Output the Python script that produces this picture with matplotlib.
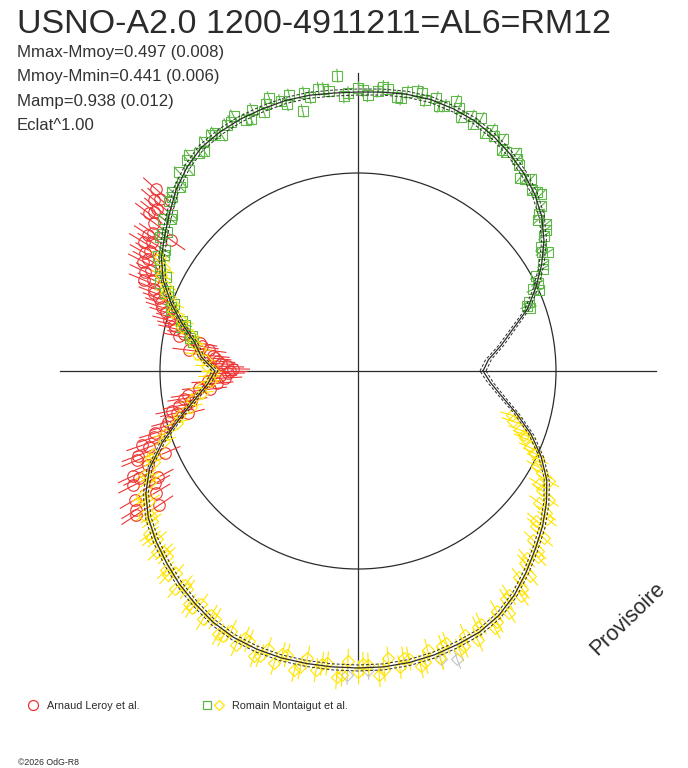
import numpy as np
import matplotlib
matplotlib.use("Agg")
import matplotlib.pyplot as plt
from matplotlib.collections import LineCollection
from matplotlib.patches import Circle

plt.rcParams['font.family'] = ['Liberation Sans', 'DejaVu Sans']

TITLE = "USNO-A2.0 1200-4911211=AL6=RM12"
STATS = ["Mmax-Mmoy=0.497 (0.008)", "Mmoy-Mmin=0.441 (0.006)",
         "Mamp=0.938 (0.012)", "Eclat^1.00"]
SERIES_NAMES = ["Arnaud Leroy et al.", "Romain Montaigut et al."]
WATERMARK = "Provisoire"
COPYRIGHT = "\u00a92026 OdG-R8"

# radial unit: mean-level circle has radius 198
R_MEAN = 198
AXIS_HALF = 298

# fitted light curve, angle in degrees
fit_angle = [0, 5, 10, 15, 20, 25, 30, 35, 40, 45,
             50, 55, 60, 65, 70, 75, 80, 85, 90, 95,
             100, 105, 110, 115, 120, 125, 130, 135, 140, 145,
             150, 155, 160, 165, 170, 175, 180, 185, 190, 195,
             200, 205, 210, 215, 220, 225, 230, 235, 240, 245,
             250, 255, 260, 265, 270, 275, 280, 285, 290, 295,
             300, 305, 310, 315, 320, 325, 330, 335, 340, 345,
             350, 355]
fit_r = [125, 131, 145, 160, 180, 196, 212, 227, 240, 250,
         258, 265, 271, 276, 279, 281, 281, 280, 279, 279,
         280, 280, 279, 278, 276, 273, 266, 257, 246, 236,
         227, 215, 199, 182, 166, 157, 143, 151, 166, 185,
         208, 230, 245, 256, 264, 271, 278, 284, 290, 294,
         296, 297, 297, 297, 297, 297, 296, 294, 291, 288,
         282, 273, 262, 251, 241, 230, 218, 202, 184, 164,
         146, 133]

# Romain Montaigut et al. (squares)
green_angle = [20, 21, 22, 24, 25, 26, 28, 29, 30, 32,
               33, 34, 36, 37, 38, 40, 41, 42, 44, 45,
               46, 48, 49, 50, 52, 53, 54, 56, 57, 58,
               60, 61, 62, 64, 65, 66, 68, 69, 70, 72,
               73, 74, 76, 77, 78, 80, 81, 82, 84, 85,
               86, 88, 89, 90, 92, 93, 94, 96, 97, 98,
               100, 101, 102, 104, 105, 106, 108, 109, 110, 112,
               113, 114, 116, 117, 118, 120, 121, 122, 124, 125,
               126, 128, 129, 130, 132, 133, 134, 136, 137, 138,
               140, 141, 142, 144, 145, 146, 148, 149, 150, 152,
               153, 154, 156, 157, 158, 160, 161, 162, 164, 165,
               166, 168, 169, 170]
green_r = [183, 181, 184, 198, 193, 200, 202, 211, 214, 224,
           219, 221, 230, 235, 239, 235, 240, 246, 255, 253,
           251, 258, 254, 252, 262, 265, 269, 264, 264, 273,
           271, 276, 270, 281, 273, 279, 274, 282, 287, 279,
           277, 284, 279, 285, 286, 283, 276, 277, 284, 285,
           281, 276, 281, 283, 278, 275, 296, 282, 284, 285,
           278, 283, 266, 284, 276, 281, 287, 282, 276, 282,
           274, 275, 284, 280, 279, 272, 278, 278, 276, 269,
           270, 274, 271, 263, 268, 258, 256, 258, 255, 254,
           243, 241, 247, 236, 239, 239, 228, 226, 231, 224,
           222, 214, 217, 206, 208, 196, 198, 197, 183, 179,
           182, 170, 171, 168]

# Arnaud Leroy et al. (circles)
red_angle = [138, 139, 140, 141, 142, 143, 144, 145, 146, 147,
             148, 149, 150, 151, 152, 153, 154, 155, 156, 157,
             158, 159, 160, 161, 162, 163, 164, 165, 166, 167,
             168, 169, 170, 171, 172, 173, 174, 175, 176, 177,
             178, 179, 180, 181, 182, 183, 184, 185, 186, 187,
             188, 189, 190, 191, 192, 193, 194, 195, 196, 197,
             198, 199, 200, 201, 202, 203, 204, 205, 206, 207,
             208, 209, 210, 211, 212, 213, 214]
red_r = [272, 262, 266, 258, 259, 262, 252, 228, 247, 250,
         243, 250, 240, 244, 238, 241, 230, 235, 224, 232,
         220, 218, 212, 208, 206, 201, 193, 196, 190, 188,
         178, 182, 160, 158, 150, 170, 146, 144, 140, 137,
         131, 125, 128, 130, 138, 133, 150, 142, 160, 149,
         172, 176, 170, 182, 190, 186, 175, 197, 200, 212,
         214, 228, 222, 236, 238, 210, 230, 248, 244, 252,
         226, 232, 258, 236, 262, 265, 240]

# Romain Montaigut et al. (diamonds)
yellow_angle = [150, 152, 154, 156, 158, 160, 162, 164, 166, 168,
                170, 172, 174, 176, 178, 180, 182, 184, 186, 188,
                190, 192, 194, 196, 198, 200, 202, 203, 204, 206,
                207, 208, 210, 211, 212, 214, 215, 216, 218, 219,
                220, 222, 223, 224, 226, 227, 228, 230, 231, 232,
                234, 235, 236, 238, 239, 240, 242, 243, 244, 246,
                247, 248, 250, 251, 252, 254, 255, 256, 258, 259,
                260, 262, 263, 264, 266, 267, 268, 270, 271, 272,
                274, 275, 276, 278, 279, 280, 282, 283, 284, 286,
                287, 288, 290, 291, 292, 294, 295, 296, 298, 299,
                300, 302, 303, 304, 306, 307, 308, 310, 311, 312,
                314, 315, 316, 318, 319, 320, 322, 323, 324, 326,
                327, 328, 330, 331, 332, 334, 335, 336, 338, 339,
                340, 342, 344]
yellow_r = [229, 220, 219, 210, 207, 197, 194, 183, 181, 170,
            168, 160, 162, 152, 151, 145, 148, 147, 157, 158,
            169, 171, 184, 188, 203, 206, 221, 225, 223, 237,
            233, 236, 249, 251, 246, 258, 253, 255, 265, 266,
            262, 271, 265, 266, 277, 279, 272, 284, 275, 277,
            288, 289, 281, 293, 285, 286, 298, 297, 289, 300,
            290, 291, 303, 301, 292, 304, 293, 293, 306, 302,
            291, 302, 295, 294, 307, 304, 290, 301, 293, 294,
            305, 300, 289, 299, 291, 292, 302, 299, 288, 299,
            288, 286, 297, 295, 285, 295, 283, 281, 291, 287,
            277, 285, 272, 270, 278, 273, 262, 268, 255, 252,
            259, 254, 243, 250, 236, 233, 240, 236, 224, 230,
            219, 214, 220, 210, 203, 200, 194, 188, 180, 178,
            172, 163, 160]

gray_angle = [268, 272, 286, 289]
gray_r = [304, 299, 300, 305]

RED = '#EE3535'
GREEN = '#5DB847'
YELLOW = '#FFE500'
GRAY = '#C4C4C4'
INK = '#2b2b2b'


def xy(ang, r):
    t = np.deg2rad(np.asarray(ang, float))
    r = np.asarray(r, float)
    return r * np.cos(t), r * np.sin(t)


def radial_bars(ax, ang, r, half, color, lw):
    t = np.deg2rad(np.asarray(ang, float))
    r = np.asarray(r, float)
    c, s = np.cos(t), np.sin(t)
    segs = np.stack([np.column_stack([(r - half) * c, (r - half) * s]),
                     np.column_stack([(r + half) * c, (r + half) * s])], axis=1)
    ax.add_collection(LineCollection(segs, colors=color, linewidths=lw, zorder=2))


fig = plt.figure(figsize=(6.88, 7.68), dpi=100)
ax = fig.add_axes([0, 0, 1, 1])
ax.set_xlim(-358, 330)
ax.set_ylim(-397, 371)
ax.axis('off')

# reference circle and crosshair
ax.add_patch(Circle((0, 0), R_MEAN, fill=False, ec=INK, lw=0.9, zorder=1))
ax.plot([-AXIS_HALF, AXIS_HALF], [0, 0], color=INK, lw=0.9, zorder=1)
ax.plot([0, 0], [-AXIS_HALF, AXIS_HALF], color=INK, lw=0.9, zorder=1)

# data
radial_bars(ax, red_angle, red_r, 17, RED, 0.8)
x, y = xy(red_angle, red_r)
ax.plot(x, y, ls='none', marker='o', ms=8.3, mfc='none', mec=RED, mew=0.8, zorder=3)

radial_bars(ax, green_angle, green_r, 7, GREEN, 0.8)
x, y = xy(green_angle, green_r)
ax.plot(x, y, ls='none', marker='s', ms=6.8, mfc='none', mec=GREEN, mew=0.8, zorder=3)

radial_bars(ax, gray_angle, gray_r, 10, GRAY, 0.8)
x, y = xy(gray_angle, gray_r)
ax.plot(x, y, ls='none', marker='D', ms=6.0, mfc='none', mec=GRAY, mew=0.8, zorder=3)

radial_bars(ax, yellow_angle, yellow_r, 12, YELLOW, 0.8)
x, y = xy(yellow_angle, yellow_r)
ax.plot(x, y, ls='none', marker='D', ms=6.0, mfc='none', mec=YELLOW, mew=0.8, zorder=3)

# fitted curve (three close traces)
fa = fit_angle + [fit_angle[0] + 360]
fr = np.array(fit_r + [fit_r[0]], float)
for dr, ls, lw in [(-3, (0, (3, 2)), 0.7), (0, '-', 0.9), (3, (0, (3, 2)), 0.7)]:
    x, y = xy(fa, fr + dr)
    ax.plot(x, y, color=INK, ls=ls, lw=lw, zorder=4)

# texts
ax.text(-341, 338, TITLE, fontsize=24.5, color=INK, ha='left', va='baseline')
for i, s in enumerate(STATS):
    ax.text(-341, 314 - 24.5 * i, s, fontsize=12.1, color='#333333',
            ha='left', va='baseline')

ax.text(239, -285, WATERMARK, fontsize=15.5, color=INK, rotation=44,
        rotation_mode='anchor', ha='left', va='baseline')

# legend
ax.plot([-325], [-333.5], ls='none', marker='o', ms=7.2, mfc='none', mec=RED, mew=0.9)
ax.text(-311, -338, SERIES_NAMES[0], fontsize=7.8, color=INK, ha='left', va='baseline')
ax.plot([-151.5], [-334], ls='none', marker='s', ms=5.2, mfc='none', mec=GREEN, mew=0.9)
ax.plot([-139], [-333.5], ls='none', marker='D', ms=5.0, mfc='none', mec=YELLOW, mew=0.9)
ax.text(-126.5, -338, SERIES_NAMES[1], fontsize=7.8, color=INK, ha='left', va='baseline')

ax.text(-340, -394, COPYRIGHT, fontsize=6.3, color=INK, ha='left', va='baseline')

fig.savefig('out.png', dpi=100)
